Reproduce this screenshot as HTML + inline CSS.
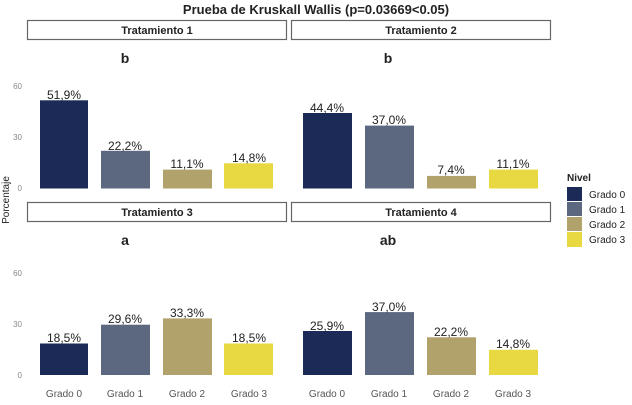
<!DOCTYPE html>
<html><head><meta charset="utf-8"><style>body{margin:0;background:#fff}svg{display:block}text{font-family:"Liberation Sans",sans-serif}</style></head><body>
<svg width="632" height="405" viewBox="0 0 632 405">
<rect width="632" height="405" fill="#fff"/>
<text x="316" y="14" text-anchor="middle" font-size="13" font-weight="bold" fill="#222">Prueba de Kruskall Wallis (p=0.03669&lt;0.05)</text>
<g fill="#fff" stroke="#666" stroke-width="1.2">
<rect x="27.5" y="20.5" width="259" height="19"/><rect x="291.5" y="20.5" width="259" height="19"/>
<rect x="27.5" y="202.5" width="259" height="19"/><rect x="291.5" y="202.5" width="259" height="19"/>
</g>
<g font-size="11" font-weight="bold" fill="#222" text-anchor="middle">
<text x="157" y="34">Tratamiento 1</text><text x="421" y="34">Tratamiento 2</text>
<text x="157" y="216">Tratamiento 3</text><text x="421" y="216">Tratamiento 4</text>
</g>
<g font-size="14" font-weight="bold" fill="#222" text-anchor="middle">
<text x="125" y="63">b</text><text x="388" y="63">b</text>
<text x="125" y="245">a</text><text x="388" y="245">ab</text>
</g>
<g font-size="8" fill="#888" text-anchor="end">
<text x="22" y="89">60</text><text x="22" y="140">30</text><text x="22" y="191">0</text>
<text x="22" y="276">60</text><text x="22" y="327">30</text><text x="22" y="378">0</text>
</g>
<text transform="translate(9,200) rotate(-90)" font-size="10" fill="#222" text-anchor="middle">Porcentaje</text>
<g font-size="12" fill="#222" text-anchor="middle">
<rect x="40" y="100.3" width="48" height="88.2" fill="#1b2a56"/><text x="64" y="99">51,9%</text>
<rect x="101" y="150.8" width="49" height="37.7" fill="#5b6880"/><text x="125" y="150">22,2%</text>
<rect x="163" y="169.6" width="49" height="18.9" fill="#b0a26a"/><text x="187" y="168">11,1%</text>
<rect x="224" y="163.3" width="49" height="25.2" fill="#e8d842"/><text x="249" y="162">14,8%</text>
<rect x="303" y="113" width="49" height="75.5" fill="#1b2a56"/><text x="327" y="112">44,4%</text>
<rect x="365" y="125.6" width="49" height="62.9" fill="#5b6880"/><text x="389" y="124">37,0%</text>
<rect x="427" y="175.9" width="49" height="12.6" fill="#b0a26a"/><text x="451" y="174">7,4%</text>
<rect x="489" y="169.6" width="49" height="18.9" fill="#e8d842"/><text x="513" y="168">11,1%</text>
<rect x="40" y="343.5" width="48" height="31.5" fill="#1b2a56"/><text x="64" y="342">18,5%</text>
<rect x="101" y="324.7" width="49" height="50.3" fill="#5b6880"/><text x="125" y="323">29,6%</text>
<rect x="163" y="318.4" width="49" height="56.6" fill="#b0a26a"/><text x="187" y="317">33,3%</text>
<rect x="224" y="343.5" width="49" height="31.5" fill="#e8d842"/><text x="249" y="342">18,5%</text>
<rect x="303" y="331" width="49" height="44" fill="#1b2a56"/><text x="327" y="330">25,9%</text>
<rect x="365" y="312.1" width="49" height="62.9" fill="#5b6880"/><text x="389" y="311">37,0%</text>
<rect x="427" y="337.3" width="49" height="37.7" fill="#b0a26a"/><text x="451" y="336">22,2%</text>
<rect x="489" y="349.8" width="49" height="25.2" fill="#e8d842"/><text x="513" y="348">14,8%</text>
</g>
<g font-size="10" fill="#555" text-anchor="middle">
<text x="64" y="397">Grado 0</text><text x="125" y="397">Grado 1</text><text x="187" y="397">Grado 2</text><text x="249" y="397">Grado 3</text>
<text x="327" y="397">Grado 0</text><text x="389" y="397">Grado 1</text><text x="451" y="397">Grado 2</text><text x="513" y="397">Grado 3</text>
</g>
<text x="567" y="181" font-size="10" font-weight="bold" fill="#222">Nivel</text>
<rect x="567" y="187" width="15" height="14" fill="#1b2a56"/>
<rect x="567" y="202" width="15" height="14" fill="#5b6880"/>
<rect x="567" y="217" width="15" height="14" fill="#b0a26a"/>
<rect x="567" y="232" width="15" height="15" fill="#e8d842"/>
<g font-size="10" fill="#222">
<text x="589" y="198">Grado 0</text><text x="589" y="213">Grado 1</text><text x="589" y="228">Grado 2</text><text x="589" y="243">Grado 3</text>
</g>
</svg>
</body></html>
